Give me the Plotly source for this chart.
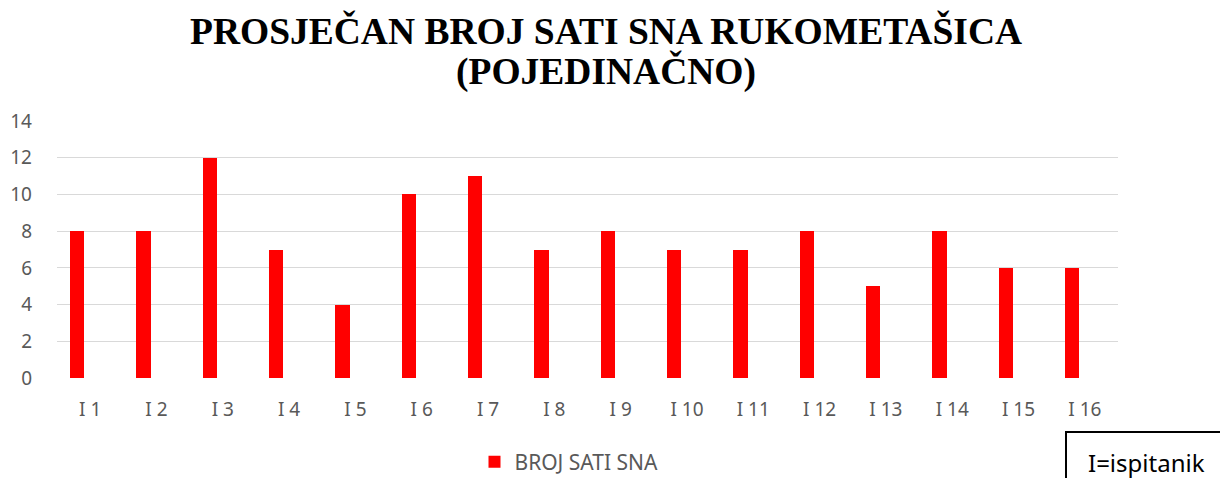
import plotly.graph_objects as go

categories = ["I 1", "I 2", "I 3", "I 4", "I 5", "I 6", "I 7", "I 8",
              "I 9", "I 10", "I 11", "I 12", "I 13", "I 14", "I 15", "I 16"]
sleep_hours = [8, 8, 12, 7, 4, 10, 11, 7, 8, 7, 7, 8, 5, 8, 6, 6]
y_ticks = [0, 2, 4, 6, 8, 10, 12, 14]

OFF = 8  # page body margin
W, H = 1228 - OFF, 478 - OFF
L, R, T, B = 57 - OFF, 1118 - OFF, 121 - OFF, 378 - OFF
pw, ph = R - L, B - T

def px_x(x):
    return (x - OFF - L) / pw

def px_y(y):
    return (B - (y - OFF)) / ph

fig = go.Figure()
fig.add_trace(go.Bar(
    x=categories, y=sleep_hours, name="BROJ SATI SNA",
    marker=dict(color="#ff0000", line=dict(width=0)),
    width=0.216, offset=-0.302,
))

tick_font = dict(family="Noto Sans", size=19, color="#595959")
fig.update_layout(
    width=W, height=H,
    margin=dict(l=L, r=W - R, t=T, b=H - B, autoexpand=False),
    paper_bgcolor="white", plot_bgcolor="white",
    showlegend=True,
    legend=dict(orientation="h", x=px_x(569), y=px_y(462), xanchor="center", yanchor="middle",
                font=dict(family="Noto Sans", size=21, color="#595959"),
                itemwidth=30, tracegroupgap=0),
    xaxis=dict(type="category", range=[-0.5, 15.5], showgrid=False, zeroline=False,
               showline=False, ticks="", tickfont=tick_font, ticklabelstandoff=18),
    yaxis=dict(range=[0, 14], tickvals=y_ticks, showgrid=True, gridcolor="#d9d9d9",
               gridwidth=1.3, zeroline=False, showline=False, ticks="",
               tickfont=tick_font, ticklabelstandoff=24),
    bargap=0,
    annotations=[
        dict(text="<b>PROSJEČAN BROJ SATI SNA RUKOMETAŠICA</b>", xref="paper", yref="paper",
             x=px_x(606), y=px_y(31), xanchor="center", yanchor="middle", showarrow=False,
             font=dict(family="Liberation Serif", size=37.5, color="black")),
        dict(text="<b>(POJEDINAČNO)</b>", xref="paper", yref="paper",
             x=px_x(606), y=px_y(71), xanchor="center", yanchor="middle", showarrow=False,
             font=dict(family="Liberation Serif", size=37.5, color="black")),
        dict(text="I=ispitanik", xref="paper", yref="paper",
             x=px_x(1146), y=px_y(462), xanchor="center", yanchor="middle", showarrow=False,
             font=dict(family="Noto Sans", size=24, color="black")),
    ],
    shapes=[
        dict(type="rect", xref="paper", yref="paper",
             x0=px_x(1066), x1=px_x(1240), y0=px_y(432), y1=px_y(495),
             line=dict(color="black", width=2), fillcolor="rgba(0,0,0,0)"),
    ],
)

fig.write_html("out.html")
